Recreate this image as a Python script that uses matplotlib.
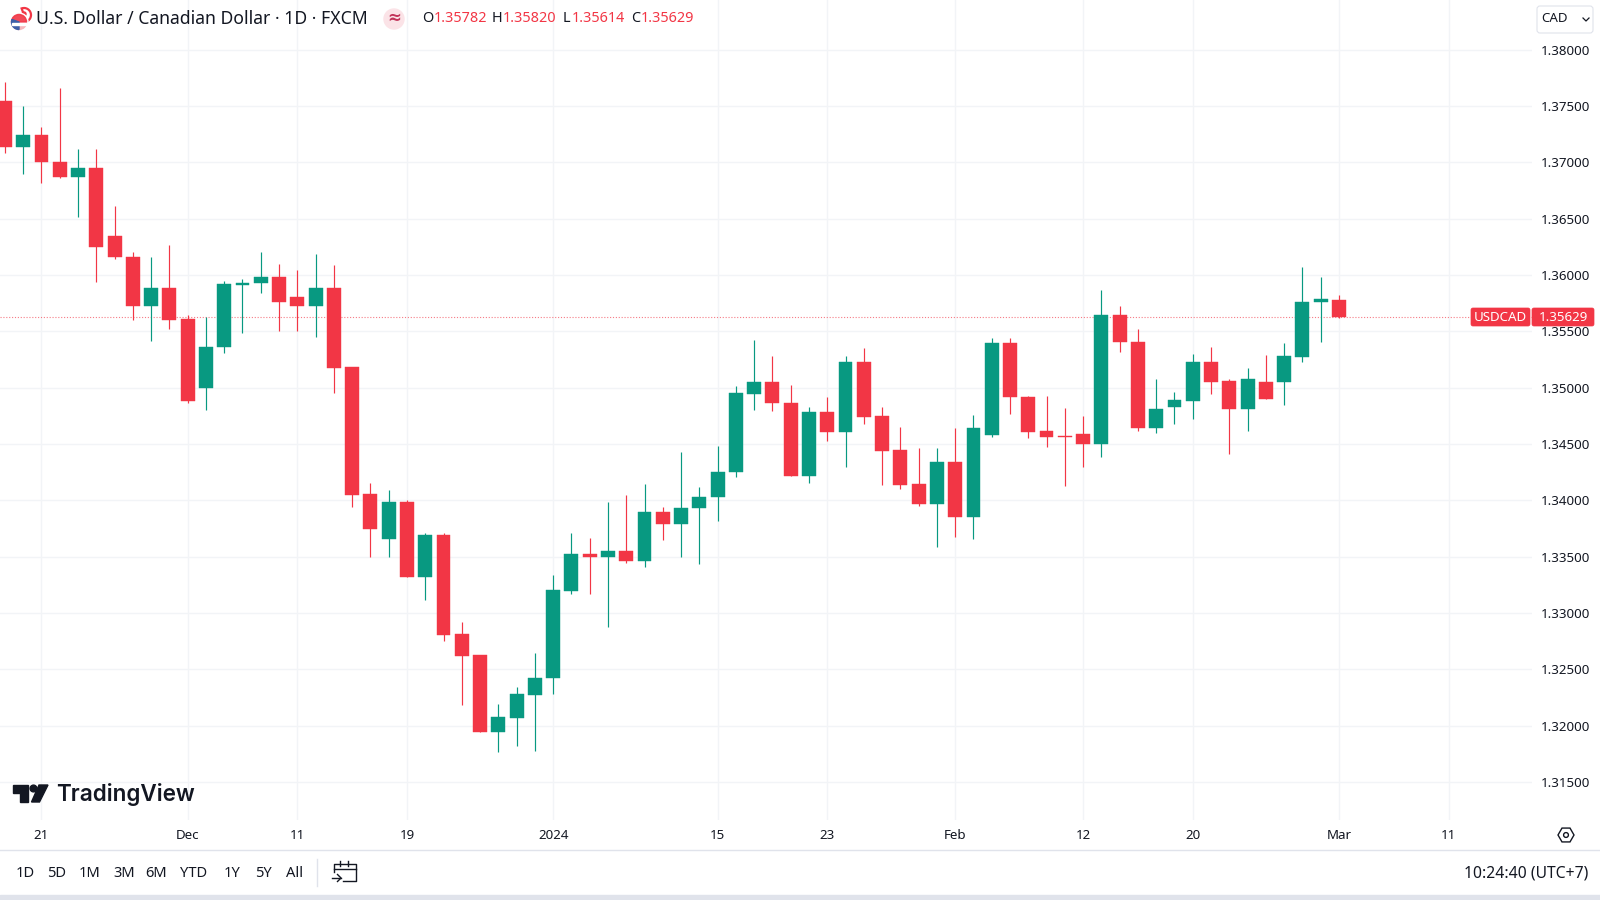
import matplotlib
matplotlib.use("Agg")
import matplotlib.pyplot as plt
from matplotlib.patches import Circle, FancyBboxPatch, Polygon, Rectangle, RegularPolygon, Wedge
import numpy as np

plt.rcParams['font.family'] = ['Noto Sans', 'DejaVu Sans']

# daily candles
opens = [1.37544, 1.37133, 1.37242, 1.37003, 1.36867, 1.36947, 1.36346, 1.36162, 1.35725, 1.35887,
         1.35607, 1.34995, 1.35358, 1.35914, 1.35929, 1.35985, 1.35807, 1.35725, 1.35887, 1.35181,
         1.34054, 1.33658, 1.33988, 1.33318, 1.33693, 1.32812, 1.32628, 1.31942, 1.32069, 1.32273,
         1.32424, 1.33196, 1.33524, 1.33495, 1.33551, 1.33465, 1.33900, 1.33791, 1.33930, 1.34028,
         1.34249, 1.34944, 1.35053, 1.34867, 1.34219, 1.34787, 1.34604, 1.35231, 1.34749, 1.34447,
         1.34146, 1.33968, 1.34343, 1.33850, 1.34580, 1.35394, 1.34920, 1.34616, 1.34571, 1.34587,
         1.34503, 1.35645, 1.35406, 1.34642, 1.34826, 1.34885, 1.35231, 1.35059, 1.34811, 1.35051,
         1.35051, 1.35275, 1.35758, 1.35782]
highs = [1.37715, 1.37500, 1.37316, 1.37657, 1.37118, 1.37118, 1.36612, 1.36207, 1.36157, 1.36266,
         1.35645, 1.35625, 1.35947, 1.35962, 1.36204, 1.36098, 1.36044, 1.36186, 1.36086, 1.35181,
         1.34152, 1.34092, 1.34004, 1.33708, 1.33708, 1.32924, 1.32628, 1.32193, 1.32347, 1.32649,
         1.33338, 1.33713, 1.33664, 1.33988, 1.34048, 1.34146, 1.33944, 1.34432, 1.34122, 1.34483,
         1.35015, 1.35423, 1.35281, 1.35024, 1.34831, 1.34920, 1.35281, 1.35350, 1.34831, 1.34654,
         1.34462, 1.34462, 1.34640, 1.34758, 1.35438, 1.35438, 1.34926, 1.34926, 1.34817, 1.34749,
         1.35867, 1.35725, 1.35518, 1.35077, 1.34959, 1.35299, 1.35364, 1.35075, 1.35177, 1.35290,
         1.35394, 1.36068, 1.35980, 1.35820]
lows = [1.37080, 1.36896, 1.36814, 1.36860, 1.36512, 1.35941, 1.36145, 1.35601, 1.35417, 1.35518,
        1.34867, 1.34802, 1.35305, 1.35488, 1.35838, 1.35503, 1.35503, 1.35447, 1.34950, 1.33939,
        1.33500, 1.33495, 1.33318, 1.33116, 1.32755, 1.32185, 1.31942, 1.31770, 1.31823, 1.31779,
        1.32282, 1.33170, 1.33170, 1.32874, 1.33442, 1.33406, 1.33649, 1.33500, 1.33436, 1.33820,
        1.34210, 1.34802, 1.34796, 1.34219, 1.34152, 1.34530, 1.34299, 1.34678, 1.34137, 1.34101,
        1.33953, 1.33584, 1.33678, 1.33658, 1.34565, 1.34767, 1.34551, 1.34477, 1.34130, 1.34299,
        1.34388, 1.35314, 1.34618, 1.34595, 1.34681, 1.34722, 1.34944, 1.34412, 1.34618, 1.34902,
        1.34847, 1.35225, 1.35408, 1.35614]
closes = [1.37133, 1.37242, 1.37003, 1.36867, 1.36947, 1.36246, 1.36157, 1.35725, 1.35887, 1.35601,
          1.34885, 1.35364, 1.35920, 1.35932, 1.35985, 1.35763, 1.35725, 1.35887, 1.35175, 1.34048,
          1.33746, 1.33988, 1.33318, 1.33693, 1.32806, 1.32619, 1.31942, 1.32075, 1.32282, 1.32427,
          1.33205, 1.33524, 1.33495, 1.33551, 1.33465, 1.33900, 1.33791, 1.33935, 1.34033, 1.34255,
          1.34950, 1.35053, 1.34864, 1.34219, 1.34787, 1.34604, 1.35231, 1.34743, 1.34441, 1.34137,
          1.33968, 1.34343, 1.33850, 1.34640, 1.35394, 1.34915, 1.34610, 1.34565, 1.34565, 1.34500,
          1.35645, 1.35406, 1.34642, 1.34808, 1.34891, 1.35231, 1.35053, 1.34811, 1.35075, 1.34902,
          1.35281, 1.35760, 1.35784, 1.35629]

price_ticks = [1.315, 1.32, 1.325, 1.33, 1.335, 1.34, 1.345, 1.35, 1.355, 1.36, 1.365, 1.37, 1.375, 1.38]
date_pos = [2, 10, 16, 22, 30, 39, 45, 52, 59, 65, 73, 79]
date_labels = ['21', 'Dec', '11', '19', '2024', '15', '23', 'Feb', '12', '20', 'Mar', '11']
ranges = ['1D', '5D', '1M', '3M', '6M', 'YTD', '1Y', '5Y', 'All']
range_x = [25, 57, 90, 124, 156, 194, 232, 263, 295]

GREEN = '#089981'
RED = '#F23645'
TEXT = '#131722'
GRID = '#F2F4F7'

fig = plt.figure(figsize=(16, 9), dpi=100, facecolor='white')

# chart area: 0-1532 px wide, 0-820 px from the top
ax = fig.add_axes([0, 1 - 820 / 900, 1532 / 1600, 820 / 900])
x = np.arange(len(opens))
o = np.array(opens)
c = np.array(closes)
colors = [GREEN if b > a else RED for a, b in zip(opens, closes)]

ax.vlines(x, lows, highs, colors=colors, linewidth=0.85, zorder=3)
ax.bar(x, np.abs(c - o), bottom=np.minimum(o, c), width=0.76, color=colors,
       edgecolor=colors, linewidth=0.3, zorder=4)
ax.axhline(closes[-1], color=RED, linewidth=0.8, linestyle=(0, (1, 1.6)), alpha=0.65, zorder=2)

ax.set_xlim(-0.27, 83.565)
ax.set_ylim(1.31164, 1.38440)
ax.yaxis.tick_right()
ax.set_yticks(price_ticks)
ax.set_yticklabels(['%.5f' % p for p in price_ticks])
ax.set_xticks(date_pos)
ax.set_xticklabels(date_labels)
ax.get_xticklabels()[4].set_fontweight('bold')
ax.tick_params(axis='y', length=0, pad=6.2, labelsize=9.6, labelcolor=TEXT)
ax.tick_params(axis='x', length=0, pad=6.7, labelsize=9.6, labelcolor=TEXT)
ax.grid(True, color=GRID, linewidth=1)
ax.set_axisbelow(True)
for s in ax.spines.values():
    s.set_visible(False)

# everything around the chart, in pixels
ui = fig.add_axes([0, 0, 1, 1], facecolor='none')
ui.set_xlim(0, 1600)
ui.set_ylim(900, 0)
ui.axis('off')

# header: flag pair
ui.add_patch(Wedge((24, 15), 7, 250, 110, facecolor='none', edgecolor=RED, linewidth=1.6, zorder=1))
ui.add_patch(Circle((24, 14), 2, color=RED, zorder=1))
ui.add_patch(Circle((19, 22), 9, color='white', zorder=2))
ui.add_patch(Circle((19, 22), 7.5, color='#F6B7BC', zorder=3))
ui.add_patch(Wedge((19, 22), 7.5, 180, 360, color=RED, zorder=3, alpha=0.85))
ui.add_patch(Wedge((19, 22), 7.5, 90, 200, color='#3D5FA8', zorder=4))
ui.add_patch(Rectangle((11.8, 22.5), 14.4, 2, color='white', zorder=5))
ui.text(36, 18.5, 'U.S. Dollar / Canadian Dollar · 1D · FXCM', fontsize=12.7, color=TEXT, va='center', ha='left')
ui.add_patch(Circle((394, 19), 10, color='#FBE3E7'))
ui.text(394, 18.5, '≈', fontsize=12, color='#C2345A', va='center', ha='center', fontweight='bold')
for lab, lx, val, vx in [('O', 422, '1.35782', 433.5), ('H', 492, '1.35820', 503),
                         ('L', 563, '1.35614', 572), ('C', 631, '1.35629', 641)]:
    ui.text(lx, 18.5, lab, fontsize=10.4, color=TEXT, va='center', ha='left')
    ui.text(vx, 18.5, val, fontsize=10.4, color=RED, va='center', ha='left')

# currency button
ui.add_patch(FancyBboxPatch((1537, 6), 56, 27, boxstyle='round,pad=0,rounding_size=3',
                            facecolor='white', edgecolor='#E0E3EB', linewidth=0.8))
ui.text(1541, 18.5, 'CAD', fontsize=9.6, color=TEXT, va='center', ha='left')
ui.plot([1583, 1586, 1589], [18, 21, 18], color=TEXT, linewidth=0.9)

# last price tag
ui.add_patch(FancyBboxPatch((1471, 308), 59, 18, boxstyle='round,pad=0,rounding_size=2',
                            facecolor=RED, edgecolor=RED, linewidth=0.5, zorder=5))
ui.add_patch(FancyBboxPatch((1532, 308), 62, 18, boxstyle='round,pad=0,rounding_size=2',
                            facecolor=RED, edgecolor=RED, linewidth=0.5, zorder=5))
ui.text(1500.5, 317.5, 'USDCAD', fontsize=9.6, color='white', va='center', ha='center', zorder=6)
ui.text(1563, 317.5, '%.5f' % closes[-1], fontsize=9.6, color='white', va='center', ha='center', zorder=6)

# TradingView mark
ui.add_patch(Polygon([[13, 785], [28, 785], [28, 802], [20, 802], [20, 793], [13, 793]], color=TEXT))
ui.add_patch(Circle((33.5, 788.5), 3.4, color=TEXT))
ui.add_patch(Polygon([[39, 785], [48, 785], [39.5, 802], [31.5, 802]], color=TEXT))
ui.text(56, 794.5, 'TradingView', fontsize=16.2, color=TEXT, va='center', ha='left',
        family=['Inter', 'DejaVu Sans'], fontweight='semibold')

# settings hexagon on the axis corner
ui.add_patch(RegularPolygon((1566, 835), 6, radius=8, orientation=np.pi / 2, facecolor='none',
                            edgecolor=TEXT, linewidth=1))
ui.add_patch(Circle((1566, 835), 2.4, facecolor='none', edgecolor=TEXT, linewidth=1))

# bottom toolbar
ui.plot([0, 1600], [850, 850], color='#E0E3EB', linewidth=1)
ui.add_patch(Rectangle((0, 895), 1600, 5, color='#E0E3EB'))
for lab, tx in zip(ranges, range_x):
    ui.text(tx, 873.5, lab, fontsize=10.6, color=TEXT, va='center', ha='center')
ui.plot([317, 317], [859, 886], color='#E0E3EB', linewidth=1)
ui.text(1588, 873.5, '10:24:40 (UTC+7)', fontsize=11.3, color=TEXT, va='center', ha='right')

# calendar icon
ui.plot([334, 334, 355.5, 355.5, 343], [872, 864, 864, 881, 881], color=TEXT, linewidth=1)
ui.plot([334, 355.5], [868.5, 868.5], color=TEXT, linewidth=1)
ui.plot([339.5, 339.5], [861, 866], color=TEXT, linewidth=1)
ui.plot([348, 348], [861, 866], color=TEXT, linewidth=1)
ui.plot([332, 341], [878, 878], color=TEXT, linewidth=1)
ui.plot([337.5, 341, 337.5], [874.5, 878, 881.5], color=TEXT, linewidth=1)

fig.savefig('out.png', dpi=100)
